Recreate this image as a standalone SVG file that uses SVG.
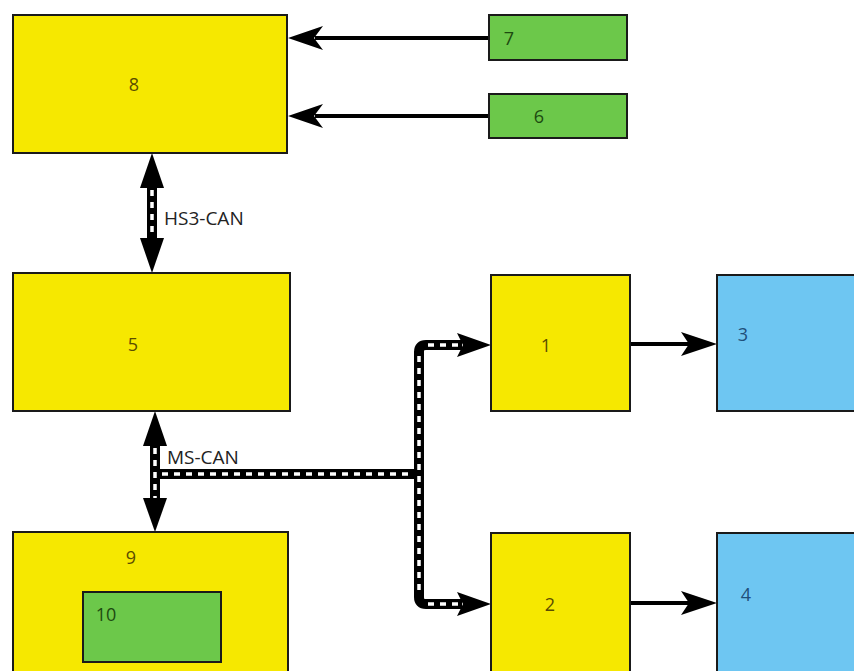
<svg xmlns="http://www.w3.org/2000/svg" width="854" height="671" viewBox="0 0 854 671">
  <defs>
    <style>
      .box { stroke: #1a1a1a; stroke-width: 2; }
      .yellow { fill: #f6e800; }
      .green { fill: #6cc84a; }
      .blue { fill: #6ec6f2; }
      .lbl { font-family: "Open Sans", "Liberation Sans", Arial, sans-serif; font-size: 18px; }
      .ly { fill: #5a4c00; }
      .lg { fill: #1d4a10; }
      .lb { fill: #1f4f7a; }
      .bus-outer { fill: none; stroke: #000; stroke-width: 10; stroke-linejoin: round; }
      .bus-inner { fill: none; stroke: #fff; stroke-width: 3.5; stroke-dasharray: 6 6; }
      .wire { fill: none; stroke: #000; stroke-width: 4; }
      .head { fill: #000; }
      .buslbl { font-family: "Open Sans", "Liberation Sans", sans-serif; font-size: 19px; fill: #222; }
    </style>
  </defs>
  <rect width="854" height="671" fill="#fff"/>

  <g id="connectors">
    <!-- 7 -> 8 -->
    <line class="wire" x1="489" y1="38" x2="315" y2="38"/>
    <path class="head" d="M288,38 L323,26 L314,38 L323,50 Z"/>
    <!-- 6 -> 8 -->
    <line class="wire" x1="489" y1="116" x2="315" y2="116"/>
    <path class="head" d="M288,116 L323,104 L314,116 L323,128 Z"/>

    <!-- HS3-CAN bus between 8 and 5 -->
    <line class="bus-outer" x1="152" y1="180" x2="152" y2="246"/>
    <line class="bus-inner" x1="152" y1="190" x2="152" y2="240" stroke-dasharray="6 10"/>
    <path class="head" d="M152,153 L164,188 L140,188 Z"/>
    <path class="head" d="M152,273 L164,238 L140,238 Z"/>

    <!-- MS-CAN bus -->
    <path class="bus-outer" d="M155,474 L419,474"/>
    <path class="bus-outer" d="M155,438 L155,505"/>
    <path class="bus-outer" d="M462,345 L426,345 Q419,345 419,352 L419,597 Q419,604 426,604 L462,604"/>
    <path class="bus-inner" d="M162,474 L412,474"/>
    <path class="bus-inner" d="M155,448 L155,500"/>
    <path class="bus-inner" d="M419,356 L419,596"/>
    <path class="bus-inner" d="M428,345 L458,345"/>
    <path class="bus-inner" d="M428,604 L458,604"/>
    <path class="head" d="M155,411 L167,446 L143,446 Z"/>
    <path class="head" d="M155,532 L167,498 L143,498 Z"/>
    <path class="head" d="M491,345 L457,333 L463,345 L457,357 Z"/>
    <path class="head" d="M491,604 L457,592 L463,604 L457,616 Z"/>

    <!-- 1 -> 3, 2 -> 4 -->
    <line class="wire" x1="630" y1="344" x2="690" y2="344"/>
    <path class="head" d="M717,344 L681,332 L689,344 L681,356 Z"/>
    <line class="wire" x1="630" y1="603" x2="690" y2="603"/>
    <path class="head" d="M717,603 L681,591 L689,603 L681,615 Z"/>

    <text class="buslbl" x="164" y="225">HS3-CAN</text>
    <text class="buslbl" x="167" y="464">MS-CAN</text>
  </g>

  <g id="node-8">
    <rect class="box yellow" x="13" y="15" width="274" height="138"/>
    <text class="lbl ly" x="134" y="91" text-anchor="middle">8</text>
  </g>
  <g id="node-7">
    <rect class="box green" x="489" y="15" width="138" height="45"/>
    <text class="lbl lg" x="509" y="45" text-anchor="middle">7</text>
  </g>
  <g id="node-6">
    <rect class="box green" x="489" y="94" width="138" height="44"/>
    <text class="lbl lg" x="539" y="123" text-anchor="middle">6</text>
  </g>
  <g id="node-5">
    <rect class="box yellow" x="13" y="273" width="277" height="138"/>
    <text class="lbl ly" x="133" y="351" text-anchor="middle">5</text>
  </g>
  <g id="node-1">
    <rect class="box yellow" x="491" y="275" width="139" height="136"/>
    <text class="lbl ly" x="546" y="352" text-anchor="middle">1</text>
  </g>
  <g id="node-3">
    <rect class="box blue" x="717" y="275" width="140" height="136"/>
    <text class="lbl lb" x="743" y="341" text-anchor="middle">3</text>
  </g>
  <g id="node-9">
    <rect class="box yellow" x="13" y="532" width="275" height="142"/>
    <text class="lbl ly" x="131" y="564" text-anchor="middle">9</text>
  </g>
  <g id="node-10">
    <rect class="box green" x="83" y="592" width="138" height="70"/>
    <text class="lbl lg" x="106" y="621" text-anchor="middle">10</text>
  </g>
  <g id="node-2">
    <rect class="box yellow" x="491" y="533" width="139" height="141"/>
    <text class="lbl ly" x="550" y="611" text-anchor="middle">2</text>
  </g>
  <g id="node-4">
    <rect class="box blue" x="717" y="533" width="140" height="141"/>
    <text class="lbl lb" x="746" y="601" text-anchor="middle">4</text>
  </g>
</svg>
